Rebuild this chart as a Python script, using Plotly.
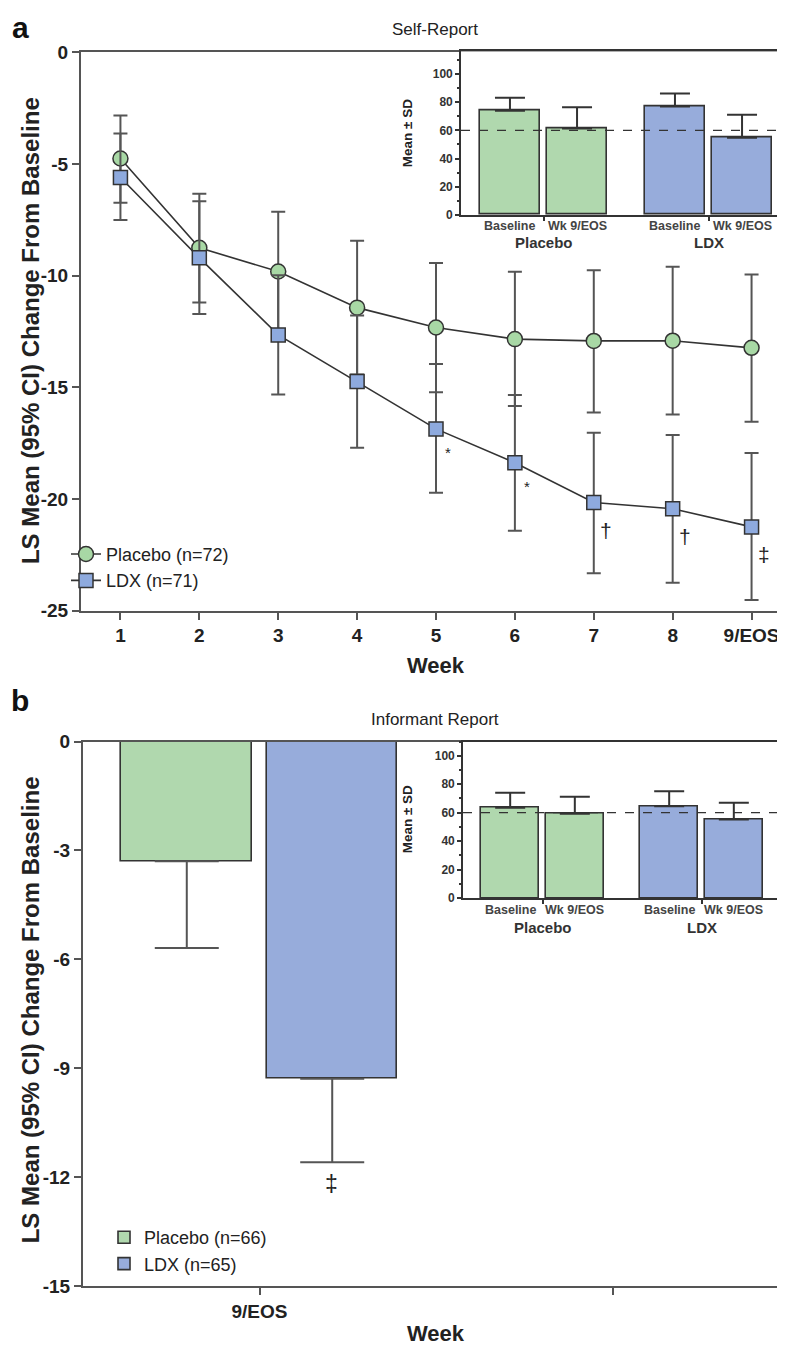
import plotly.graph_objects as go

W, H = 785, 1348
FONT = "Liberation Sans, Arial, sans-serif"
INK = "#333333"
GREEN = "#b0d8ae"
BLUE = "#97acdb"
GREEN_MK = "#a8d8a5"
BLUE_MK = "#8eaade"

# ---- panel a: self-report, LS mean change by week
WEEKS = ["1", "2", "3", "4", "5", "6", "7", "8", "9/EOS"]
PBO_MEAN = [-4.75, -8.75, -9.81, -11.43, -12.32, -12.84, -12.92, -12.91, -13.23]
PBO_LO   = [-6.73, -11.2, -12.49, -14.43, -15.22, -15.83, -16.13, -16.22, -16.54]
PBO_HI   = [-2.82, -6.33, -7.13, -8.43, -9.43, -9.82, -9.75, -9.60, -9.95]
LDX_MEAN = [-5.60, -9.20, -12.65, -14.74, -16.86, -18.38, -20.16, -20.44, -21.25]
LDX_LO   = [-7.51, -11.72, -15.32, -17.70, -19.72, -21.42, -23.33, -23.75, -24.53]
LDX_HI   = [-3.63, -6.67, -9.98, -11.78, -13.95, -15.34, -17.03, -17.13, -17.94]
SIG_A    = ["", "", "", "", "*", "*", "†", "†", "‡"]
TICKS_A  = [0, -5, -10, -15, -20, -25]

# ---- insets: mean ± SD at baseline and week 9/EOS
INSET_BARS   = ["Baseline", "Wk 9/EOS", "Baseline", "Wk 9/EOS"]
INSET_GROUPS = ["Placebo", "LDX"]
SELF_MEAN = [73.9, 61.3, 76.9, 54.8]
SELF_SD   = [9.3, 15.1, 9.3, 16.3]
INF_MEAN  = [63.5, 59.3, 64.6, 55.3]
INF_SD    = [10.5, 11.9, 10.5, 11.7]
INSET_TICKS = [0, 20, 40, 60, 80, 100]

# ---- panel b: informant report at 9/EOS
WEEK_B   = ["9/EOS"]
PBO_B    = [-3.30]
PBO_B_LO = [-5.69]
LDX_B    = [-9.29]
LDX_B_LO = [-11.59]
SIG_B    = ["‡"]
TICKS_B  = [0, -3, -6, -9, -12, -15]


def px(x):
    return x / W


def py(y):
    return 1 - y / H


def minus(mean, lo):
    return [m - l for m, l in zip(mean, lo)]


def plus(mean, hi):
    return [h - m for m, h in zip(mean, hi)]


def bold(vals):
    return ["<b>%s</b>" % v for v in vals]


fig = go.Figure()

# panel a lines
fig.add_trace(go.Scatter(
    x=WEEKS, y=PBO_MEAN, name="Placebo (n=72)", mode="lines+markers",
    line=dict(color=INK, width=1.6),
    marker=dict(symbol="circle", size=15, color=GREEN_MK, line=dict(color=INK, width=1.5)),
    error_y=dict(type="data", symmetric=False, array=plus(PBO_MEAN, PBO_HI),
                 arrayminus=minus(PBO_MEAN, PBO_LO), color="#555555", thickness=2, width=7),
    xaxis="x", yaxis="y", legend="legend",
))
fig.add_trace(go.Scatter(
    x=WEEKS, y=LDX_MEAN, name="LDX (n=71)", mode="lines+markers",
    line=dict(color=INK, width=1.6),
    marker=dict(symbol="square", size=14, color=BLUE_MK, line=dict(color=INK, width=1.5)),
    error_y=dict(type="data", symmetric=False, array=plus(LDX_MEAN, LDX_HI),
                 arrayminus=minus(LDX_MEAN, LDX_LO), color="#555555", thickness=2, width=7),
    xaxis="x", yaxis="y", legend="legend",
))

# insets
inset_pos = [i + 0.46 * (i // 2) for i in range(len(INSET_BARS))]
inset_cols = [GREEN, GREEN, BLUE, BLUE]
group_mid = [(inset_pos[0] + inset_pos[1]) / 2, (inset_pos[2] + inset_pos[3]) / 2]

for mean, sd, xa, ya in [(SELF_MEAN, SELF_SD, "x2", "y2"), (INF_MEAN, INF_SD, "x4", "y4")]:
    fig.add_trace(go.Bar(
        x=inset_pos, y=mean, width=0.9, showlegend=False,
        marker=dict(color=inset_cols, line=dict(color=INK, width=1.6)),
        error_y=dict(type="data", symmetric=False, array=sd, arrayminus=[0] * len(sd),
                     color=INK, thickness=2, width=15),
        xaxis=xa, yaxis=ya,
    ))

# panel b bars
fig.add_trace(go.Bar(
    x=WEEK_B, y=PBO_B, name="Placebo (n=66)", width=0.372, offset=-0.392,
    marker=dict(color=GREEN, line=dict(color=INK, width=1.6)),
    error_y=dict(type="data", symmetric=False, array=[0], arrayminus=minus(PBO_B, PBO_B_LO),
                 color="#555555", thickness=2, width=32),
    xaxis="x3", yaxis="y3", legend="legend2",
))
fig.add_trace(go.Bar(
    x=WEEK_B, y=LDX_B, name="LDX (n=65)", width=0.368, offset=0.022,
    marker=dict(color=BLUE, line=dict(color=INK, width=1.6)),
    error_y=dict(type="data", symmetric=False, array=[0], arrayminus=minus(LDX_B, LDX_B_LO),
                 color="#555555", thickness=2, width=32),
    xaxis="x3", yaxis="y3", legend="legend2",
))

ann = []
shapes = []


def note(text, x, y, size, color="#222", angle=0, xref="paper", yref="paper", **kw):
    ann.append(dict(text=text, x=x, y=y, xref=xref, yref=yref, showarrow=False,
                    xanchor="center", yanchor="middle", textangle=angle,
                    font=dict(size=size, color=color, family=FONT), **kw))


# significance marks (x given as category index)
for i, (m, s) in enumerate(zip(LDX_MEAN, SIG_A)):
    if not s:
        continue
    big = s != "*"
    note(s, i, m, 21 if big else 15, xref="x", yref="y",
         xshift=12, yshift=-28 if big else -24)
note(SIG_B[0], 0, LDX_B_LO[0], 23, xref="x3", yref="y3", xshift=72, yshift=-22)

# inset labels and reference line
for xa, ya, ysub, ygrp, ymid in [("x2", "y2", 211, 228, 117), ("x4", "y4", 906, 924, 814)]:
    for p, lab in zip(inset_pos, INSET_BARS):
        note("<b>" + lab + "</b>", p, py(ysub), 12.5, color="#444", xref=xa)
    for p, g in zip(group_mid, INSET_GROUPS):
        note("<b>" + g + "</b>", p, py(ygrp), 15, color="#333", xref=xa)
    note("<b>Mean ± SD</b>", px(399), py(ymid), 13.5, angle=-90)
    shapes.append(dict(type="line", xref=xa + " domain", yref=ya, x0=0, x1=1, y0=60, y1=60,
                       line=dict(color=INK, width=1.3, dash="dash")))

# titles, axis titles, panel letters
note("Self-Report", px(427), py(12), 17)
note("Informant Report", px(427), py(713), 17)
note("<b>a</b>", px(12), py(10), 30, color="#111")
note("<b>b</b>", px(12), py(693), 30, color="#111")
note("<b>Week</b>", px(428), py(658), 22)
note("<b>Week</b>", px(428), py(1336), 22)
note("<b>LS Mean (95% CI) Change From Baseline</b>", px(22), py(318), 24, angle=-90)
note("<b>LS Mean (95% CI) Change From Baseline</b>", px(22), py(1008), 24, angle=-90)

main_ax = dict(showline=True, linecolor="#555", linewidth=2, ticks="outside", ticklen=7,
               tickwidth=2, tickcolor="#555", showgrid=False, zeroline=False,
               tickfont=dict(size=19, color="#222", family=FONT))
inset_y = dict(showline=True, linecolor=INK, linewidth=1.6, mirror=True, ticks="outside", ticklen=4,
               tickwidth=1.5, tickcolor=INK, showgrid=False, zeroline=False,
               tickmode="array", tickvals=INSET_TICKS, ticktext=bold(INSET_TICKS),
               minor=dict(dtick=10, ticks="outside", ticklen=2, tickcolor=INK, showgrid=False),
               tickfont=dict(size=12, color="#333", family=FONT))
inset_x = dict(showline=True, linecolor=INK, linewidth=1.6, mirror=True, ticks="outside", ticklen=4,
               tickwidth=1.5, tickcolor=INK, showgrid=False, zeroline=False,
               tickvals=group_mid, ticktext=["", ""], range=[-0.73, 4.19])

fig.update_layout(
    width=W, height=H, margin=dict(l=0, r=0, t=0, b=0),
    paper_bgcolor="white", plot_bgcolor="white", font=dict(family=FONT),
    bargap=0,
    xaxis=dict(main_ax, type="category", categoryorder="array", categoryarray=WEEKS,
               domain=[px(73), px(783)], range=[-0.5, 8.5], mirror=True,
               tickmode="array", tickvals=WEEKS, ticktext=bold(WEEKS), anchor="y"),
    yaxis=dict(main_ax, domain=[py(602), py(35)], range=[-25, 0], mirror=True,
               tickmode="array", tickvals=TICKS_A, ticktext=bold(TICKS_A), anchor="x"),
    xaxis2=dict(inset_x, domain=[px(453), px(783)], anchor="y2"),
    yaxis2=dict(inset_y, domain=[py(200), py(34)], range=[0, 116], anchor="x2"),
    xaxis3=dict(main_ax, type="category", domain=[px(75), px(781)], range=[-0.5, 1.5], mirror=True,
                tickmode="array", tickvals=[0, 1], ticktext=bold(WEEK_B) + [""], anchor="y3"),
    yaxis3=dict(main_ax, domain=[py(1288), py(735)], range=[-15, 0],
                tickmode="array", tickvals=TICKS_B, ticktext=bold(TICKS_B), anchor="x3"),
    xaxis4=dict(inset_x, domain=[px(455), px(773)], anchor="y4"),
    yaxis4=dict(inset_y, domain=[py(894), py(735)], range=[0, 110], anchor="x4"),
    legend=dict(x=px(58), y=py(526), xanchor="left", yanchor="top", bgcolor="rgba(0,0,0,0)",
                font=dict(size=18, color="#222", family=FONT), tracegroupgap=0),
    legend2=dict(x=px(96), y=py(1220), xanchor="left", yanchor="top", bgcolor="rgba(0,0,0,0)",
                 font=dict(size=18, color="#222", family=FONT), tracegroupgap=0),
    annotations=ann, shapes=shapes,
)

fig.write_html("out.html")
